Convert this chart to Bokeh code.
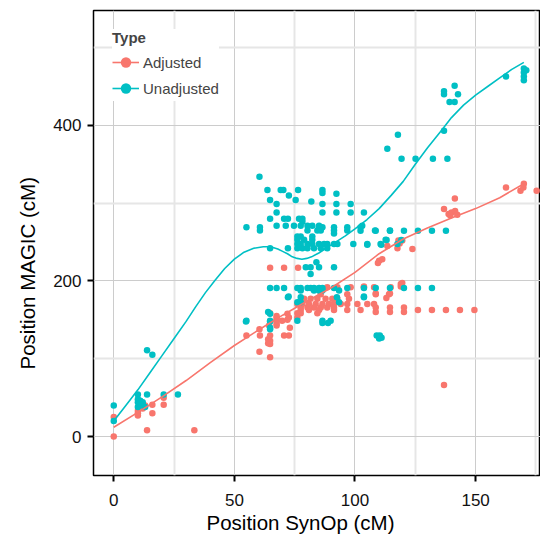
from bokeh.plotting import figure
from bokeh.models import FixedTicker, Legend, LegendItem, Range1d, Title
from bokeh.embed import file_html
from bokeh.resources import INLINE

RED = "#F8766D"
CYAN = "#00BFC4"
FONT = "Liberation Sans"

# ---------------- data ----------------
adj_x = [0, 0, 10, 10, 10, 11, 12, 13, 16, 16, 20.7, 20.7, 13.8, 33.4,
         60.4, 60.4, 64.8, 64, 64, 67.5, 67.5, 67.5, 72, 73, 72,
         64.8, 70.6, 76.4,
         88.5, 92.7, 98.2, 103.7, 107.9, 114.8,
         85.8, 96.8, 108.6, 114.1,
         78.9, 81.6, 84.4, 87.8, 90.6, 92.7, 97.5,
         76.1, 78.2, 80.9, 83.7, 86.5, 89.2, 91.3, 94.1, 96.8, 101, 105.1, 107.9,
         77.5, 80.3, 83, 85.8, 88.5, 91.3,
         77.5, 80.9, 85.1, 91.3, 96.8, 102.3, 108.6, 108.6, 114.5, 114.5, 120.3, 120.3, 126.1, 131.9, 137.7, 143.5, 149.5,
         64.8, 76.1, 77.5, 84.4,
         67.5, 72.6, 76.1,
         67.5, 69.8,
         64.4, 67.5,
         55, 60.6, 64.8, 70.6, 72.6,
         64.8, 64.8,
         118, 113.4, 110, 119, 108.6, 114.5, 113, 103.7, 119, 119.6, 136.9, 109.5, 111.3, 117.6, 119.6, 118.5, 123.8,
         162.6, 170, 168.6, 169.8, 175.3, 141.4, 136.9, 138.8, 140, 141.5, 142.4, 139.5]
adj_y = [0, 25, 33, 27, 30, 38, 36, 40, 41, 30, 50, 41, 8, 8,
         109, 138, 102, 120, 125, 145, 150, 155, 150, 140, 158,
         217, 217, 217,
         192, 192, 192, 192, 192, 192,
         183, 183, 183, 183,
         177, 177, 177, 177, 177, 177, 177,
         170.5, 170.5, 170.5, 170.5, 170.5, 170.5, 170.5, 170.5, 170.5, 170.5, 170.5, 170.5,
         166, 166, 166, 166, 166, 166,
         162.7, 162.7, 162.7, 162.7, 162.7, 162.7, 160, 166, 160, 166, 160, 166, 162.7, 162.7, 162.7, 162.7, 162.7,
         158.4, 158.4, 158.4, 158.4,
         153, 153, 153,
         149, 149,
         142.6, 142.6,
         130, 130, 130, 130, 130,
         123, 119,
         252, 245, 226, 196, 184, 184, 178, 193, 193, 197.5, 66.4, 223, 228, 242, 252, 248, 241,
         320, 325, 316, 320, 316, 306, 292.5, 286, 288, 290, 285, 284]

unadj_x = [0, 0, 13.8, 16, 10, 13.8, 20.7, 26.6, 10, 10, 11, 12, 13, 10, 11, 12,
           54.8, 64, 64.8, 64.8, 64.8, 72.5,
           60.4,
           63.7, 69.2, 70.3, 76.4, 86.5,
           72.6, 64.8, 75.4, 86.5, 92.3, 81.9,
           67.5, 86.5, 92.3, 98.2,
           67.5, 86.5, 92.3, 98.2, 103.7,
           64.8, 70.6, 72.2, 76.8, 78.2,
           78.2,
           67.5, 71.3, 74.7, 77.5, 80.3, 82.3, 85.1,
           55, 60.6, 85, 86.5, 91.3, 96.8, 102.3,
           60.6, 80.3, 84.4, 85.8, 91.3, 96.8, 108.3, 114.5,
           91.3,
           76.1, 77.5, 82.3,
           76.1, 78.9, 82.3, 112.7,
           76.1, 77.5, 80.3, 82.3, 85.1, 87.2, 88.5, 91.3, 92.7, 99.3, 105.1, 110.6, 117.6,
           64.8, 72.2, 76.1, 78.2, 80.3, 83, 85.8, 88.5,
           79.6, 81.6, 85.1, 91.3,
           84, 81.6,
           64.8, 67.5, 70.6, 76.1, 77.5, 80.3, 81.6, 83, 85.1, 86.5, 91.3, 96.8, 103.7, 108.6, 114.5, 120.3, 126.1, 131.9,
           77.5, 83, 85.1, 86.5, 93.4,
           72.2, 77.5, 92.5, 103.7,
           76.1, 77.5, 93.4,
           55, 64.8, 76.1, 86.5, 89.9,
           86.5, 88.8,
           64.8,
           109, 110.3, 110, 111,
           102.3, 108.6, 114.5, 120.3, 126.1, 131.9, 137.7,
           105.1, 110.9, 113.1, 119.2, 103, 103.7,
           136.9, 136.9, 141.3, 142.7, 139.2, 141.3, 136.9, 117.8, 113.4,
           119.3, 125.1, 132.3, 138.3,
           162.6, 170, 170, 170, 170, 171]
unadj_y = [40, 20, 111, 105, 54, 54, 54, 54, 48, 44, 46, 41, 38, 38, 40, 44,
           148, 160, 158, 148, 140, 180,
           334,
           317, 317, 317, 317, 317,
           310, 304, 304, 313, 312, 302,
           299, 299, 299, 299,
           288, 288, 288, 288, 288,
           280, 280, 280, 280, 280,
           276,
           271, 271, 271, 271, 271, 271, 271,
           269, 269, 269, 269, 269, 269, 269,
           265, 265, 265, 265, 265, 265, 265, 265,
           261,
           257, 257, 257,
           253, 253, 253, 253,
           247.5, 247.5, 247.5, 247.5, 247.5, 247.5, 247.5, 247.5, 247.5, 247.5, 247.5, 247.5, 247.5,
           242, 242, 242, 242, 242, 242, 242, 242,
           217.5, 217.5, 217.5, 217.5,
           224, 209,
           191, 191, 191, 191, 191, 191, 191, 191, 191, 191, 191, 191, 191, 191, 191, 191, 191, 191,
           187.6, 187.6, 187.6, 187.6, 187.6,
           179, 179, 179, 179,
           172.6, 172.6, 172.6,
           149, 149, 149, 149, 149,
           146, 146,
           138,
           130, 130, 126, 127,
           264.7, 264.7, 264.7, 264.7, 264.7, 264.7, 264.7,
           246.7, 246.7, 252.7, 252.7, 271, 180,
           440, 444, 451, 440, 430, 430, 393, 388, 370,
           357, 357, 357, 357,
           463, 473, 468, 463, 458, 471]

# smoothed (loess) curves
adj_fit_x = [0, 10, 20, 30, 40, 50, 60, 70, 80, 90, 100, 110, 120, 130, 140, 150, 160, 170]
adj_fit_y = [12, 31, 51, 72, 95, 117, 137, 156, 174, 191, 211, 235, 254, 268, 281, 293, 307, 325]
unadj_fit_x = [0, 5, 10, 15, 20, 25, 30, 34, 38, 42, 46, 50, 54, 58, 62, 64, 66, 68, 70, 72, 74, 76, 78, 80,
               82, 85, 88, 91, 96, 100, 105, 110, 115, 120, 125, 130, 136, 140, 145, 150, 155, 160, 165, 170]
unadj_fit_y = [20, 40, 60, 82, 104, 126, 148, 167, 185, 201, 216, 228, 237, 242, 244, 244, 243, 241, 238, 235, 231, 229, 228, 229,
               231, 236, 242, 248, 258, 267, 279, 293, 310, 328, 350, 371, 394, 410, 426, 439, 450, 461, 472, 481]

x_ticks = [0, 50, 100, 150]
x_minor = [25, 75, 125, 175]
y_ticks = [0, 200, 400]
y_minor = [100, 300, 500]

x_title = "Position SynOp (cM)"
y_title = "Position MAGIC (cM)"

# ---------------- figure ----------------
p = figure(width=540, height=535, output_backend="svg", toolbar_location=None,
           x_range=Range1d(-8.4, 176.9), y_range=Range1d(-50.1, 547.7),
           min_border_left=93, min_border_right=0, min_border_top=10, min_border_bottom=60)
p.background_fill_color = "white"
p.border_fill_color = "white"
p.outline_line_color = "black"
p.outline_line_width = 1.5

xt = FixedTicker(ticks=x_ticks, minor_ticks=x_minor)
yt = FixedTicker(ticks=y_ticks, minor_ticks=y_minor)
p.xaxis.ticker = xt
p.yaxis.ticker = yt
p.xgrid.ticker = xt
p.ygrid.ticker = yt

for g in (p.xgrid, p.ygrid):
    g.grid_line_color = "#cccccc"
    g.grid_line_width = 1
    g.minor_grid_line_color = "#e6e6e6"
    g.minor_grid_line_width = 2

for ax in (p.xaxis, p.yaxis):
    ax.axis_line_color = None
    ax.major_tick_line_color = "black"
    ax.major_tick_line_width = 2
    ax.major_tick_out = 6
    ax.major_tick_in = 0
    ax.minor_tick_line_color = None
    ax.major_label_text_font = FONT
    ax.major_label_text_font_size = "17px"
    ax.major_label_text_color = "#111111"

p.xaxis.major_label_standoff = 12
p.yaxis.major_label_standoff = 6

# axis titles, placed (via offset from the frame edge) as in the reference
xt_title = Title(text=x_title, align="left", offset=113, standoff=0,
                 text_font=FONT, text_font_size="20.5px", text_font_style="normal", text_color="black")
yt_title = Title(text=y_title, align="left", offset=106, standoff=24,
                 text_font=FONT, text_font_size="20.5px", text_font_style="normal", text_color="black")
p.add_layout(xt_title, "below")
p.add_layout(yt_title, "left")

r_adj_pts = p.scatter(adj_x, adj_y, size=6.5, color=RED, line_color=None)
r_un_pts = p.scatter(unadj_x, unadj_y, size=6.5, color=CYAN, line_color=None)
r_adj_line = p.line(adj_fit_x, adj_fit_y, line_color=RED, line_width=1.6)
r_un_line = p.line(unadj_fit_x, unadj_fit_y, line_color=CYAN, line_width=1.6)

legend = Legend(items=[LegendItem(label="Adjusted", renderers=[r_adj_line, r_adj_pts]),
                       LegendItem(label="Unadjusted", renderers=[r_un_line, r_un_pts])],
                location="top_left", title="Type")
legend.title_text_font = FONT
legend.title_text_font_style = "bold"
legend.title_text_font_size = "15px"
legend.title_standoff = 3
legend.label_text_font = FONT
legend.label_text_font_size = "15px"
legend.label_standoff = 4
legend.glyph_width = 27
legend.glyph_height = 26
legend.label_height = 26
legend.spacing = 0
legend.padding = 10
legend.margin = 19
legend.border_line_color = None
legend.background_fill_color = "white"
legend.background_fill_alpha = 1
p.add_layout(legend)

open("out.html", "w").write(file_html(p, INLINE))
